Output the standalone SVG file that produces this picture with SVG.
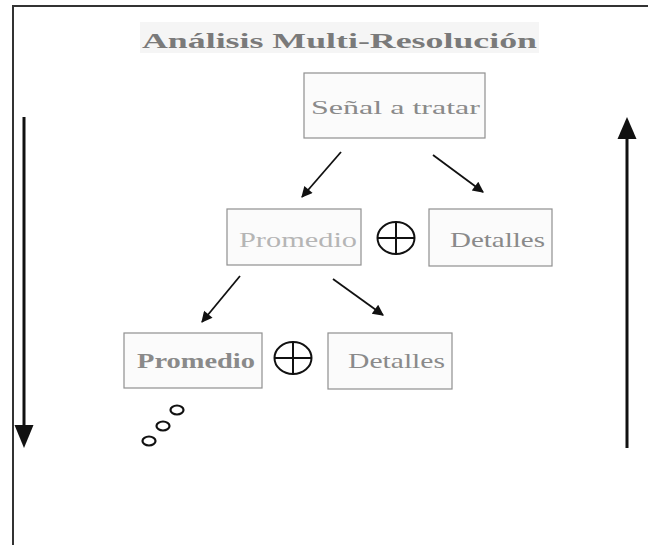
<svg xmlns="http://www.w3.org/2000/svg" width="648" height="545" viewBox="0 0 648 545">
<style>
.box{fill:#fbfbfb;stroke:#8f8f8f;stroke-width:1.2}
.lbl{font-family:"Liberation Serif",serif;fill:#8a8a8a;text-anchor:start}
.plus{fill:none;stroke:#111;stroke-width:2}
.conn{stroke:#111;stroke-width:1.8;fill:none;marker-end:url(#ah)}
.big{stroke:#111;stroke-width:3;fill:none}
.dot{fill:none;stroke:#111;stroke-width:2.2}
</style>
<defs>
<marker id="ah" viewBox="0 0 10 10" refX="9" refY="5" markerWidth="14" markerHeight="11" orient="auto" markerUnits="userSpaceOnUse">
<path d="M0,0 L10,5 L0,10 z" fill="#111"/>
</marker>
</defs>
<rect x="0" y="0" width="648" height="545" fill="#fff"/>
<g id="frame">
<line x1="12" y1="6" x2="648" y2="6" stroke="#333" stroke-width="2"/>
<line x1="13" y1="5" x2="13" y2="545" stroke="#333" stroke-width="2"/>
</g>
<g id="title">
<rect x="140" y="22" width="399" height="31" fill="#f5f5f5"/>
<text x="142" y="48" class="lbl" font-size="22" font-weight="bold" style="fill:#7a7a7a" textLength="395" lengthAdjust="spacingAndGlyphs">Análisis Multi-Resolución</text>
</g>
<g id="senal">
<rect class="box" x="304" y="73" width="181" height="65"/>
<text class="lbl" x="311" y="114" font-size="19" textLength="169" lengthAdjust="spacingAndGlyphs">Señal a tratar</text>
</g>
<g id="promedio1">
<rect class="box" x="227" y="209" width="134" height="56"/>
<text class="lbl" x="239" y="247" font-size="21" style="fill:#b5b5b5" textLength="118" lengthAdjust="spacingAndGlyphs">Promedio</text>
</g>
<g id="plus1">
<ellipse class="plus" cx="396" cy="238" rx="18.5" ry="16"/>
<line class="plus" x1="377.5" y1="238" x2="414.5" y2="238"/>
<line class="plus" x1="396" y1="222" x2="396" y2="254"/>
</g>
<g id="detalles1">
<rect class="box" x="429" y="209" width="123" height="57"/>
<text class="lbl" x="450" y="247" font-size="21" textLength="95" lengthAdjust="spacingAndGlyphs">Detalles</text>
</g>
<g id="promedio2">
<rect class="box" x="124" y="333" width="138" height="55"/>
<text class="lbl" x="137" y="368" font-size="21" style="fill:#8a8a8a" font-weight="bold" textLength="118" lengthAdjust="spacingAndGlyphs">Promedio</text>
</g>
<g id="plus2">
<ellipse class="plus" cx="293" cy="358" rx="18.5" ry="16"/>
<line class="plus" x1="274.5" y1="358" x2="311.5" y2="358"/>
<line class="plus" x1="293" y1="342" x2="293" y2="374"/>
</g>
<g id="detalles2">
<rect class="box" x="328" y="333" width="124" height="56"/>
<text class="lbl" x="348" y="368" font-size="21" textLength="97" lengthAdjust="spacingAndGlyphs">Detalles</text>
</g>
<g id="ellipsis">
<ellipse class="dot" cx="177" cy="410" rx="6.5" ry="4.5"/>
<ellipse class="dot" cx="163" cy="426" rx="6.5" ry="4.5"/>
<ellipse class="dot" cx="149" cy="441" rx="6.5" ry="4.5"/>
</g>
<g id="connectors">
<line class="conn" x1="341" y1="152" x2="302" y2="197"/>
<line class="conn" x1="433" y1="155" x2="483" y2="192"/>
<line class="conn" x1="240" y1="276" x2="202" y2="322"/>
<line class="conn" x1="333" y1="279" x2="383" y2="315"/>
<line class="big" x1="24" y1="117" x2="24" y2="428"/>
<path d="M14.5,425 L33.5,425 L24,448 z" fill="#111"/>
<line class="big" x1="627" y1="137" x2="627" y2="448"/>
<path d="M617.5,139 L636.5,139 L627,117 z" fill="#111"/>
</g>
</svg>
